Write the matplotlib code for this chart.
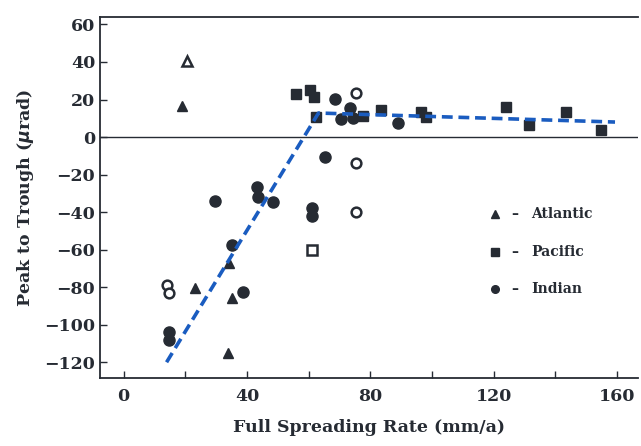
import matplotlib
matplotlib.use("Agg")
import matplotlib.pyplot as plt
from matplotlib.ticker import MultipleLocator

# Atlantic (triangles)
atl_x = [19, 23.2, 35.2, 33.9, 34]
atl_y = [16.5, -80.3, -86, -115, -67]
atl_open_x = [20.6]
atl_open_y = [40.4]

# Pacific (squares)
pac_x = [55.8, 60.3, 61.6, 62.3, 77.7, 83.5, 96.5, 98, 123.9, 131.6, 143.5, 155]
pac_y = [22.9, 25, 21.3, 10.6, 11.2, 14.4, 13.3, 10.6, 16, 6.4, 13.3, 3.7]
pac_open_x = [61]
pac_open_y = [-60]

# Indian (circles)
ind_x = [29.7, 43.2, 43.5, 48.4, 61, 61, 38.7, 14.8, 14.8, 35.2,
         68.7, 73.5, 70.6, 74.5, 65.2, 89]
ind_y = [-34, -26.6, -32, -34.6, -38, -42, -82.4, -104, -108, -57.4,
         20.2, 15.4, 9.6, 10, -10.6, 7.4]
ind_open_x = [13.9, 14.8, 75.2, 75.2, 75.2]
ind_open_y = [-78.7, -83, -40, 23.4, -13.8]

# fitted line
fit_x = [13.9, 63.2, 159.4]
fit_y = [-120, 12.8, 8]

ink = "#262b33"
plt.rcParams["font.family"] = "DejaVu Serif"
plt.rcParams["font.weight"] = "bold"

fig = plt.figure(figsize=(6.41, 4.46), dpi=100)
ax = fig.add_axes([0.156, 0.152, 0.84, 0.81])

ax.axhline(0, color=ink, lw=1.0, zorder=1)

ax.plot(atl_x, atl_y, "^", color=ink, ms=7, ls="none", zorder=3)
ax.plot(atl_open_x, atl_open_y, "^", mfc="white", mec=ink, mew=1.8, ms=7, ls="none", zorder=3)
ax.plot(pac_x, pac_y, "s", color=ink, ms=7, ls="none", zorder=3)
ax.plot(pac_open_x, pac_open_y, "s", mfc="white", mec=ink, mew=1.8, ms=6.5, ls="none", zorder=3)
ax.plot(ind_x, ind_y, "o", color=ink, ms=8, ls="none", zorder=3)
ax.plot(ind_open_x, ind_open_y, "o", mfc="white", mec=ink, mew=1.8, ms=7, ls="none", zorder=3)

ax.plot(fit_x, fit_y, "--", color="#1a5cc0", lw=2.6, dashes=(3, 1.6), zorder=4)

# legend drawn by hand
leg_names = ["Atlantic", "Pacific", "Indian"]
leg_marks = ["^", "s", "o"]
leg_y = [-40.9, -61, -80.9]
for name, m, yy in zip(leg_names, leg_marks, leg_y):
    ax.plot([120.3], [yy], m, color=ink, ms=5.5)
    ax.text(127, yy, "\u2013", fontsize=10, fontweight="bold",
            color=ink, va="center", ha="center")
    ax.text(132.3, yy, name, fontsize=10, fontweight="bold",
            color=ink, va="center", ha="left")

ax.set_xlim(-7.7, 167)
ax.set_ylim(-128.5, 64)
ax.xaxis.set_major_locator(MultipleLocator(40))
ax.xaxis.set_minor_locator(MultipleLocator(20))
ax.tick_params(direction="in", length=5, width=1, colors=ink, labelsize=12.5,
               labelcolor=ink)
ax.tick_params(axis="x", pad=7)
ax.tick_params(which="minor", direction="in", length=5, width=1, colors=ink)
ax.set_yticks(range(-120, 61, 20))
ax.set_yticklabels([str(v).replace("-", "\u2212") for v in range(-120, 61, 20)],
                   fontweight="bold")
for lab in ax.get_xticklabels():
    lab.set_fontweight("bold")
for s in ax.spines.values():
    s.set_color(ink)
    s.set_linewidth(1.3)
ax.spines["right"].set_visible(False)

ax.set_xlabel("Full Spreading Rate (mm/a)", fontsize=12.5, fontweight="bold",
              color=ink, labelpad=10)
ax.set_ylabel(r"Peak to Trough ($\mu$rad)", fontsize=12.5, fontweight="bold",
              color=ink, labelpad=6)

fig.savefig("out.png", dpi=100)
